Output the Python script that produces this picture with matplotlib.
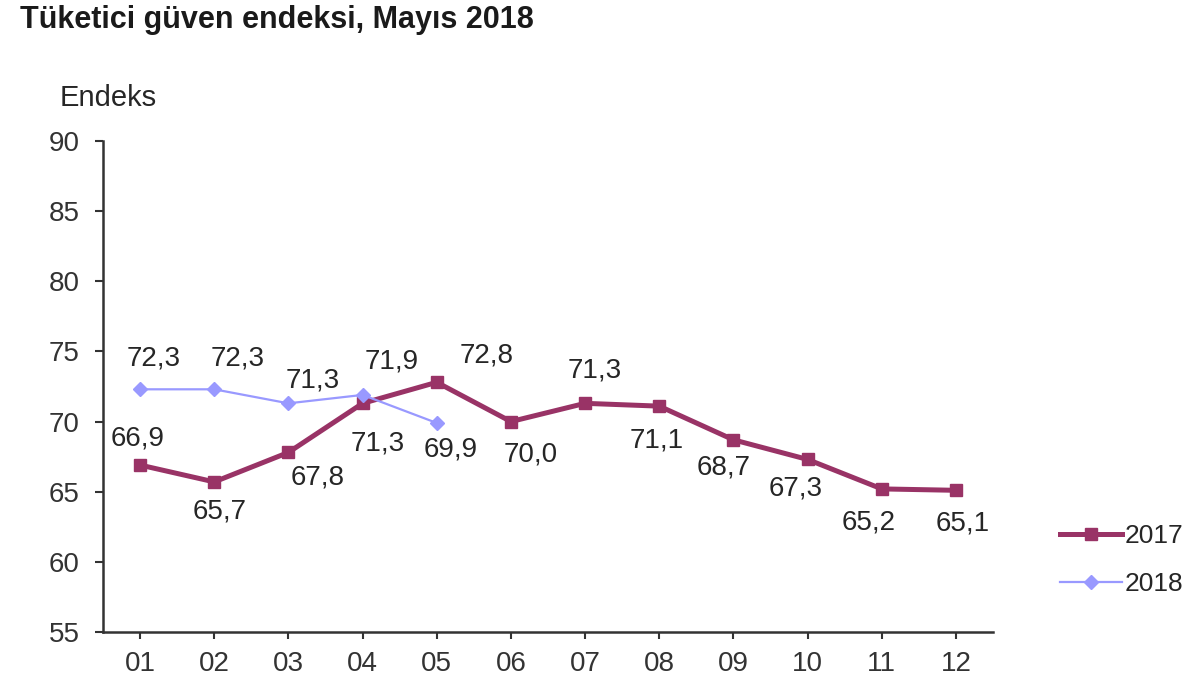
import matplotlib
matplotlib.use('Agg')
import matplotlib.pyplot as plt

plt.rcParams['font.family'] = ['Liberation Sans', 'DejaVu Sans']

### Data
months = ['01', '02', '03', '04', '05', '06', '07', '08', '09', '10', '11', '12']
values_2017 = [66.9, 65.7, 67.8, 71.3, 72.8, 70.0, 71.3, 71.1, 68.7, 67.3, 65.2, 65.1]
values_2018 = [72.3, 72.3, 71.3, 71.9, 69.9]
yticks = [55, 60, 65, 70, 75, 80, 85, 90]

# label offsets in pixels (dx, dy)
offsets_2017 = [(-2, 27), (5, -30), (29, -25), (15, -40), (50, 27), (20, -33),
                (10, 33), (-3, -34), (-10, -28), (-12, -29), (-13, -34), (7, -33)]
offsets_2018 = [(14, 31), (23, 31), (24, 23), (29, 33), (14, -27)]

c2017 = '#993366'
c2018 = '#9999FF'
txt = '#262626'

### Charting
fig = plt.figure(figsize=(12, 6.86), dpi=100)
ax = fig.add_axes([103 / 1200, 1 - 632 / 686, 890 / 1200, 491 / 686])

x17 = list(range(1, len(values_2017) + 1))
x18 = list(range(1, len(values_2018) + 1))
ax.plot(x17, values_2017, color=c2017, lw=3.6, marker='s', ms=9, label='2017', zorder=2)
ax.plot(x18, values_2018, color=c2018, lw=1.6, marker='D', ms=7, label='2018', zorder=3)

for x, v, (dx, dy) in zip(x17, values_2017, offsets_2017):
    ax.annotate(f'{v:.1f}'.replace('.', ','), (x, v), xytext=(dx, dy),
                textcoords='offset pixels', ha='center', va='center',
                fontsize=20, color=txt)
for x, v, (dx, dy) in zip(x18, values_2018, offsets_2018):
    ax.annotate(f'{v:.1f}'.replace('.', ','), (x, v), xytext=(dx, dy),
                textcoords='offset pixels', ha='center', va='center',
                fontsize=20, color=txt)

ax.set_xlim(0.5, 12.5)
ax.set_ylim(55, 90)
ax.set_yticks(yticks)
ax.set_xticks(x17)
ax.set_xticklabels(months)
for s in ['top', 'right']:
    ax.spines[s].set_visible(False)
for s in ['left', 'bottom']:
    ax.spines[s].set_linewidth(1.8)
    ax.spines[s].set_color('#333333')
ax.tick_params(axis='y', length=6, width=1.5, pad=11, labelsize=20, colors='#333333')
ax.tick_params(axis='x', length=5, width=1.5, pad=9, labelsize=20, colors='#333333')

fig.text(20 / 1200, 1 - 20 / 686, 'Tüketici güven endeksi, Mayıs 2018',
         fontsize=22, fontweight='bold', color='#1a1a1a', ha='left', va='center')
fig.text(60 / 1200, 1 - 98 / 686, 'Endeks', fontsize=21, color=txt,
         ha='left', va='center')

fig.legend(loc='center left', bbox_to_anchor=(1060 / 1200, 1 - 560 / 686),
           frameon=False, fontsize=19, handlelength=2.35, handletextpad=0.1,
           borderpad=0, borderaxespad=0, labelspacing=0.9, labelcolor=txt)

fig.savefig('out.png', dpi=100)
